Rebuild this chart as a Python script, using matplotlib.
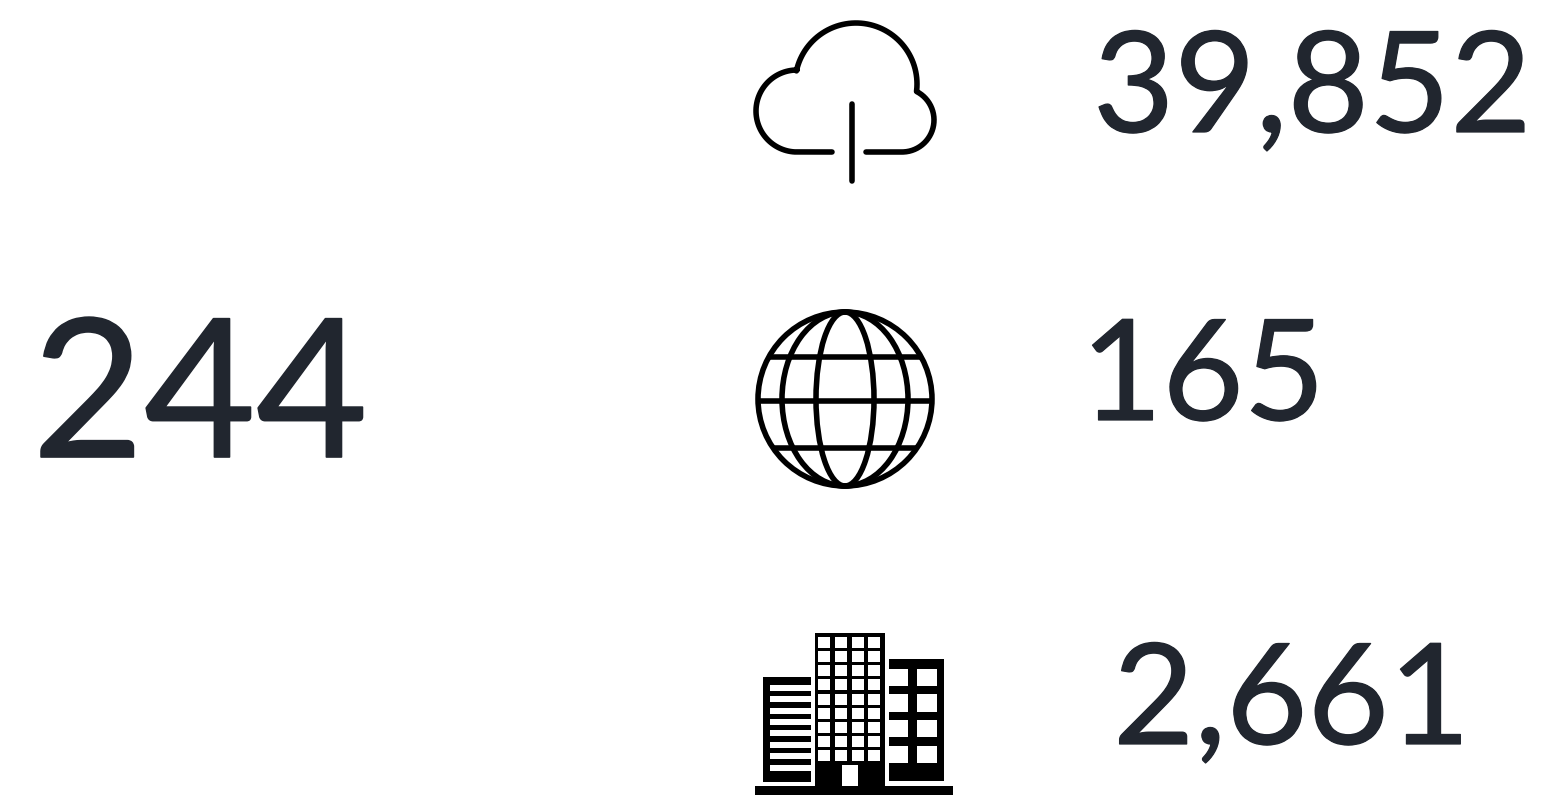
import numpy as np
import matplotlib
matplotlib.use('Agg')
import matplotlib.pyplot as plt
import matplotlib.patheffects as pe
from matplotlib.patches import Circle, Ellipse, Rectangle

# numbers shown in the picture
total_label = '244'
stat_labels = ['39,852', '165', '2,661']

TEXT_COLOR = '#21262f'
ICON_LW = 4.0  # about 5.5 px

fig = plt.figure(figsize=(15.42, 7.97), dpi=100, facecolor='white')
# axes in pixel units, y downwards
ax = fig.add_axes([0, 0, 1, 1])
ax.set_xlim(0, 1542)
ax.set_ylim(797, 0)
ax.axis('off')


def arc(cx, cy, r, a0, a1):
    t = np.radians(np.linspace(a0, a1, 60))
    return cx + r * np.cos(t), cy + r * np.sin(t)


def rect(x0, y0, x1, y1, color):
    ax.add_patch(Rectangle((x0, y0), x1 - x0, y1 - y0, fc=color, ec='none'))


# cloud icon
xs = [np.array([832.0])]
ys = [np.array([152.0])]
for cx, cy, r, a0, a1 in [(797, 111, 41, 90, 270),
                          (856, 84, 61, 192.4, 366),
                          (902, 120, 32, 297, 450)]:
    x, y = arc(cx, cy, r, a0, a1)
    xs.append(x)
    ys.append(y)
xs.append(np.array([866.0]))
ys.append(np.array([152.0]))
ax.plot(np.concatenate(xs), np.concatenate(ys), color='black', lw=ICON_LW,
        solid_capstyle='round', solid_joinstyle='round')
ax.plot([852, 852], [104, 181], color='black', lw=ICON_LW, solid_capstyle='round')

# globe icon
gx, gy, gr = 845, 399, 87
ax.add_patch(Circle((gx, gy), gr, fc='none', ec='black', lw=ICON_LW))
for half in [29, 63]:
    ax.add_patch(Ellipse((gx, gy), half * 2, gr * 2, fc='none', ec='black', lw=ICON_LW))
for y in [357, 401, 448]:
    dx = np.sqrt(gr ** 2 - (y - gy) ** 2)
    ax.plot([gx - dx, gx + dx], [y, y], color='black', lw=ICON_LW, solid_capstyle='butt')

# buildings icon
rect(755, 786, 953, 795, 'black')
# middle tower
rect(815, 633, 885, 786, 'black')
for i in range(9):
    for j in range(4):
        x0 = 818.3 + j * 16.7
        y0 = 636.7 + i * 14.2
        rect(x0, y0, x0 + 12, y0 + 11, 'white')
rect(842, 765, 858, 786, 'white')
# left block
rect(763, 677, 811, 782, 'black')
for i in range(8):
    y0 = 684.7 + i * 11.4
    rect(770, y0, 811, y0 + 6, 'white')
# right block
rect(889, 659, 944, 781, 'black')
for y0, y1 in [(669, 686), (694, 712), (720, 737), (746, 763)]:
    rect(889, y0, 908, y1, 'white')
    rect(917, y0, 937, y1, 'white')

# numbers, a thin round outline makes the strokes a bit heavier
font = ['Lato', 'DejaVu Sans']
ax.text(32, 457, total_label, fontsize=139, color=TEXT_COLOR, family=font,
        ha='left', va='baseline',
        path_effects=[pe.withStroke(linewidth=1.2, foreground=TEXT_COLOR, joinstyle='round')])
for x, y, label in zip([1093, 1081, 1113], [132, 420, 744], stat_labels):
    ax.text(x, y, label, fontsize=101, color=TEXT_COLOR, family=font,
            ha='left', va='baseline',
            path_effects=[pe.withStroke(linewidth=0.9, foreground=TEXT_COLOR, joinstyle='round')])

plt.savefig('out.png', dpi=100, facecolor='white')
